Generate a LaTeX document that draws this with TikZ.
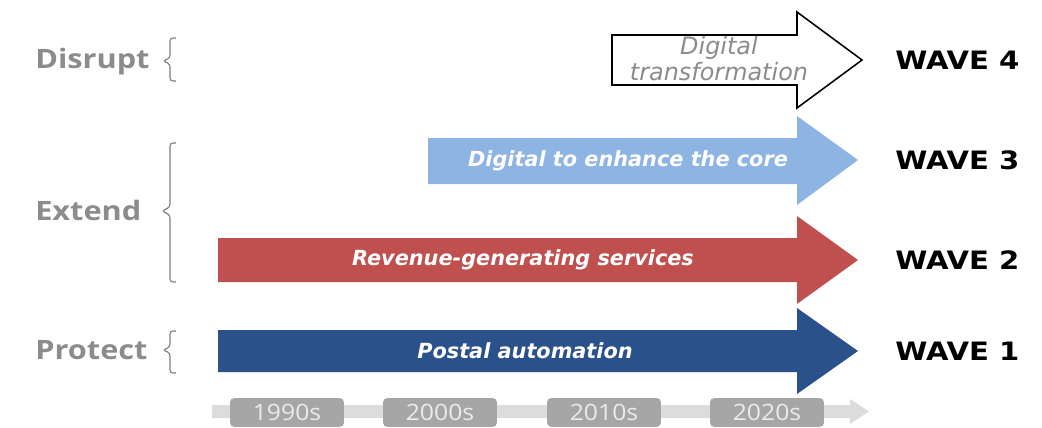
\documentclass[tikz,border=0pt]{standalone}
\usepackage{graphicx}
\usepackage{fontspec}
\setmainfont{DejaVu Sans}
\newfontfamily\opfont{Open Sans}
\usetikzlibrary{positioning}
\definecolor{waveone}{HTML}{2A5189}
\definecolor{wavetwo}{HTML}{C0504D}
\definecolor{wavethree}{HTML}{8DB4E2}
\definecolor{labelgray}{HTML}{8C8C8C}
\definecolor{yeargray}{HTML}{A6A6A6}
\definecolor{linegray}{HTML}{DCDCDC}
\newcommand{\widen}[2]{\scalebox{#1}[1]{#2}}

\begin{document}
\begin{tikzpicture}[
    x=0.025cm, y=-0.025cm,
    lbl/.style={font=\opfont\bfseries\fontsize{19}{19}\selectfont, text=labelgray, anchor=west, inner sep=0pt},
    wave/.style={font=\bfseries\fontsize{18}{18}\selectfont, anchor=west, inner sep=0pt},
    intext/.style={font=\bfseries\itshape\fontsize{14.8}{14.8}\selectfont, text=white, inner sep=0pt},
    yr/.style={font=\opfont\fontsize{16}{16}\selectfont, text=white!92!black, fill=yeargray,
        rounded corners=3pt, minimum width=81pt, minimum height=20.5pt, inner sep=0pt},
    brk/.style={draw=gray, line width=0.8pt, rounded corners=2pt}
]
    \useasboundingbox (0,0) rectangle (1042,428);

    % ===== time line =====
    \fill[linegray] (212,405) -- (850,405) -- (850,399) -- (869,411.5) -- (850,424) -- (850,418) -- (212,418) -- cycle;
    \node[yr] (y90) at (287,412.5) {\widen{1.1}{1990s}};
    \node[yr] (y00) at (440,412.5) {\widen{1.1}{2000s}};
    \node[yr] (y10) at (604,412.5) {\widen{1.1}{2010s}};
    \node[yr] (y20) at (767,412.5) {\widen{1.1}{2020s}};

    % ===== waves =====
    \fill[waveone] (218,330) -- (797,330) -- (797,308) -- (858,351) -- (797,394) -- (797,372) -- (218,372) -- cycle;
    \fill[wavetwo] (218,238) -- (797,238) -- (797,216) -- (858,260) -- (797,304) -- (797,282) -- (218,282) -- cycle;
    \fill[wavethree] (428,138) -- (797,138) -- (797,116) -- (858,160) -- (797,205) -- (797,184) -- (428,184) -- cycle;
    \filldraw[fill=white, draw=black, line width=1.1pt] (612,35) -- (797,35) -- (797,12) -- (862,60) -- (797,108) -- (797,85) -- (612,85) -- cycle;

    \node[intext] (t1) at (525,351) {Postal automation};
    \node[intext] (t2) at (523,260) {Revenue-generating services};
    \node[intext] (t3) at (628,161) {Digital to enhance the core};
    \node[intext, text=labelgray, font=\itshape\fontsize{17}{18.5}\selectfont, align=center] (t4) at (719,59) {Digital\\transformation};

    \node[wave] (w1) at (895,351) {\widen{1.15}{WAVE 1}};
    \node[wave] (w2) at (895,260) {\widen{1.15}{WAVE 2}};
    \node[wave] (w3) at (895,160) {\widen{1.15}{WAVE 3}};
    \node[wave] (w4) at (895,60)  {\widen{1.15}{WAVE 4}};

    % ===== phases =====
    \node[lbl] (disrupt) at (35,62)  {\widen{1.15}{Disrupt}};
    \node[lbl] (extend)  at (35,210) {\widen{1.15}{Extend}};
    \node[lbl] (protect) at (35,350) {\widen{1.15}{Protect}};
    \draw[brk] (176,38) -- (170,38) -- (170,58) -- (163,61) -- (170,64) -- (170,81) -- (176,81);
    \draw[brk] (176,143) -- (170,143) -- (170,207) -- (162,211) -- (170,215) -- (170,282) -- (176,282);
    \draw[brk] (176,331) -- (170,331) -- (170,347) -- (163,350) -- (170,353) -- (170,373) -- (176,373);
\end{tikzpicture}
\end{document}
